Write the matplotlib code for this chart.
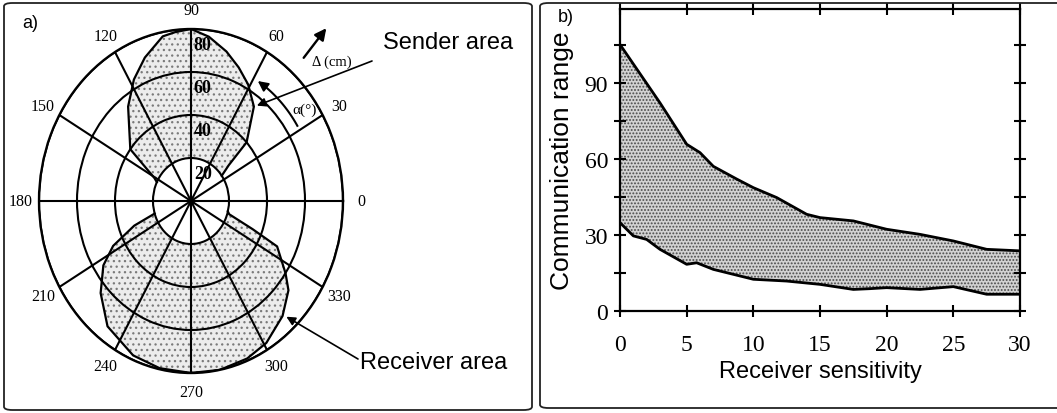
import numpy as np
import matplotlib
matplotlib.use("Agg")
import matplotlib.pyplot as plt
from matplotlib.patches import FancyBboxPatch, FancyArrowPatch

# ---------------- data ----------------
# panel a: polar lobes (angle in degrees, range in cm)
angle_ticks = [0, 30, 60, 90, 120, 150, 180, 210, 240, 270, 300, 330]
range_rings = [20, 40, 60, 80]
inner_r = 20

sender_theta = [36, 40, 43, 53, 61, 68, 75, 83, 90, 96, 101, 110, 118, 127, 143, 151, 154]
sender_r     = [20, 26, 40, 55, 62, 67, 72, 77, 80, 79, 78, 71, 64, 55, 40, 22, 20]

receiver_theta = [197, 201, 207, 213, 222, 233, 247, 258, 270, 281, 292, 301, 312, 321, 326, 335, 338, 343, 346]
receiver_r     = [20, 32, 46, 55, 64, 73, 78, 79.5, 80, 80, 79, 77, 72, 66, 60, 50, 35, 21, 20]

# panel b: communication range band vs receiver sensitivity
upper_x = [0, 3, 5, 6, 7, 8.75, 10, 11.75, 14, 15, 17.5, 20, 22.5, 25, 27.5, 30]
upper_y = [105, 82, 65.7, 62.4, 57, 52, 48.6, 44.7, 38.1, 36.8, 35.5, 32.2, 30.2, 27.6, 24.3, 23.7]
lower_x = [0, 1, 2, 3, 5, 5.75, 7, 10, 12.5, 15, 17.5, 18.75, 20, 22.5, 25, 27.5, 30]
lower_y = [34.8, 29.6, 28.2, 24.3, 18.4, 19, 16.4, 12.5, 11.8, 10.5, 8.5, 8.8, 9.2, 8.5, 9.6, 6.6, 6.6]
x_ticks = [0, 5, 10, 15, 20, 25, 30]
y_ticks = [0, 30, 60, 90]

W, H = 1057, 414
fig = plt.figure(figsize=(W / 100, H / 100), dpi=100)
plt.rcParams['hatch.linewidth'] = 0.9

def fx(px):
    return px / W

def fy(py):
    return 1 - py / H

SERIF = 'Liberation Serif'
SANS = 'Liberation Sans'

# panel frames
for (x0, x1, y0, y1) in [(4, 532, 4, 411), (540, 1070, 4, 409)]:
    fig.patches.append(FancyBboxPatch((fx(x0), fy(y1)), fx(x1) - fx(x0), fy(y0) - fy(y1),
                                      boxstyle='round,pad=0,rounding_size=0.008',
                                      transform=fig.transFigure, fill=False,
                                      edgecolor='#222222', linewidth=1.3))

# ---------------- panel a ----------------
ax1 = fig.add_axes([fx(39), fy(374), fx(343) - fx(39), fy(30) - fy(374)], projection='polar')
ax1.set_aspect('auto')
ax1.set_ylim(0, 80)
ax1.set_yticks(range_rings)
ax1.set_yticklabels([])
ax1.set_thetagrids(angle_ticks, [str(a) for a in angle_ticks], fontsize=11.5, family=SERIF)
ax1.tick_params(axis='x', pad=3)
ax1.grid(True, color='black', linewidth=1.5)
ax1.spines['polar'].set_linewidth(1.7)
ax1.set_axisbelow(False)

st = np.radians(sender_theta)
rt = np.radians(receiver_theta)
for th, r in [(st, sender_r), (rt, receiver_r)]:
    ax1.fill_between(th, inner_r, r, facecolor='#ececec', edgecolor='#7a7a7a',
                     hatch='...', linewidth=0, zorder=0.5)
    ax1.plot(th, r, color='black', linewidth=1.6, zorder=3)

# radial labels (just inside each ring, right of the 90° line)
for rr in range_rings:
    ax1.annotate(str(rr), xy=(np.pi / 2, rr), xycoords='data',
                 xytext=(2, -11), textcoords='offset points',
                 family=SERIF, fontsize=13, fontweight='bold',
                 ha='left', va='center', zorder=4)

# centre dot
ax1.plot([0], [0], 'o', color='black', markersize=3.5, zorder=4)

# alpha arc
arc = np.radians(np.linspace(32, 55, 30))
ax1.plot(arc, np.full_like(arc, 66.0), color='black', linewidth=1.5, zorder=4)
ax1.annotate('', xy=(np.radians(59), 66), xytext=(np.radians(54), 66),
             arrowprops=dict(arrowstyle='-|>', color='black', lw=1.4, mutation_scale=15),
             zorder=4)
fig.text(fx(292), fy(110), 'α(°)', family=SERIF, fontsize=11, ha='left', va='center', zorder=6)

# delta arrow
fig.patches.append(FancyArrowPatch((fx(302), fy(61)), (fx(328), fy(27)),
                   transform=fig.transFigure, arrowstyle='-|>', mutation_scale=17,
                   color='black', linewidth=1.7))
fig.text(fx(312), fy(62), 'Δ (cm)', family=SERIF, fontsize=10.5, ha='left', va='center')

# sender / receiver labels
fig.text(fx(383), fy(43), 'Sender area', fontsize=17, family=SANS, ha='left', va='center')
ax1.annotate('', xy=(np.radians(52), 56.3), xycoords='data',
             xytext=(fx(372), fy(62)), textcoords='figure fraction',
             annotation_clip=False,
             arrowprops=dict(arrowstyle='-|>', color='black', lw=1.2, mutation_scale=13,
                             shrinkA=0, shrinkB=0), zorder=5)
fig.text(fx(360), fy(363), 'Receiver area', fontsize=17, family=SANS, ha='left', va='center')
ax1.annotate('', xy=(np.radians(313), 73.6), xycoords='data',
             xytext=(fx(358), fy(360)), textcoords='figure fraction',
             annotation_clip=False,
             arrowprops=dict(arrowstyle='-|>', color='black', lw=1.2, mutation_scale=13,
                             shrinkA=0, shrinkB=0), zorder=5)

fig.text(fx(22), fy(24), 'a)', family=SANS, fontsize=13, ha='left', va='center')

# ---------------- panel b ----------------
ax2 = fig.add_axes([fx(620), fy(312), fx(1020) - fx(620), fy(10) - fy(312)])
ax2.set_xlim(0, 30)
ax2.set_ylim(0, 119)
band_x = list(upper_x) + list(lower_x[::-1])
band_y = list(upper_y) + list(lower_y[::-1])
ax2.fill(band_x, band_y, facecolor='#d2d2d2', edgecolor='#4a4a4a', hatch='.....',
         linewidth=0, zorder=1)
ax2.plot(upper_x, upper_y, color='black', linewidth=2, zorder=3)
ax2.plot(lower_x, lower_y, color='black', linewidth=2, zorder=3)

ax2.set_xticks(x_ticks)
ax2.set_yticks(y_ticks)
ax2.set_yticks([15, 45, 75, 105], minor=True)
ax2.set_xticklabels([str(v) for v in x_ticks], family=SERIF, fontsize=17)
ax2.set_yticklabels([str(v) for v in y_ticks], family=SERIF, fontsize=17)
ax2.tick_params(which='both', direction='inout', length=9, width=1.5,
                top=True, right=True)
ax2.tick_params(axis='x', pad=12)
ax2.tick_params(axis='y', pad=4)
for s in ax2.spines.values():
    s.set_linewidth(1.6)
ax2.set_xlabel('Receiver sensitivity', family=SANS, fontsize=17, labelpad=4)
ax2.set_ylabel('Communication range', family=SANS, fontsize=19, labelpad=8)
fig.text(fx(558), fy(17), 'b)', family=SANS, fontsize=13, ha='left', va='center')

fig.savefig('out.png', dpi=100)
